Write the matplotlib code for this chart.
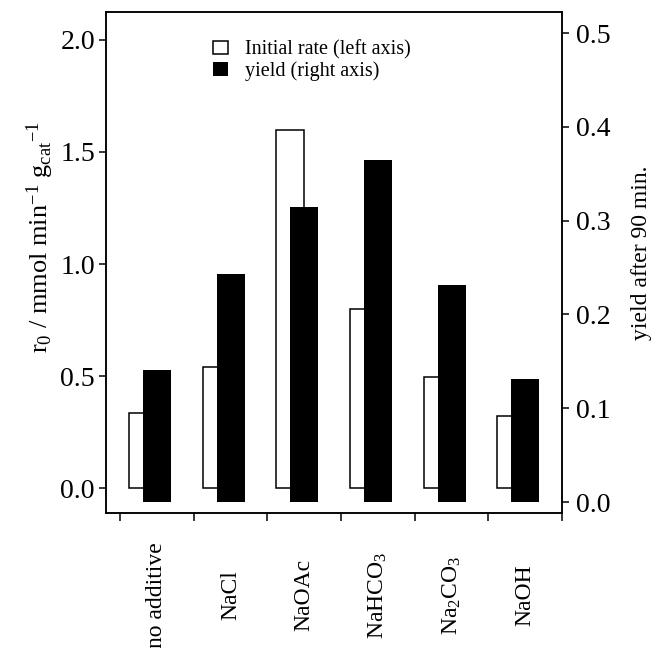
import numpy as np
import matplotlib
matplotlib.use("Agg")
import matplotlib.pyplot as plt
import matplotlib.transforms as mtransforms

plt.rcParams['font.family'] = ['Liberation Serif', 'DejaVu Serif']
plt.rcParams['mathtext.fontset'] = 'custom'
plt.rcParams['mathtext.rm'] = 'Liberation Serif'
plt.rcParams['mathtext.it'] = 'Liberation Serif:italic'

# Data
additives = ['no additive', 'NaCl', 'NaOAc', 'NaHCO$_3$', 'Na$_2$CO$_3$', 'NaOH']
rate = [0.335, 0.54, 1.60, 0.80, 0.495, 0.32]          # left axis
yield_90 = [0.141, 0.243, 0.314, 0.365, 0.231, 0.131]  # right axis
left_ticks = [0.0, 0.5, 1.0, 1.5, 2.0]
right_ticks = [0.0, 0.1, 0.2, 0.3, 0.4, 0.5]

x = np.arange(len(additives))
w = 0.38

fig = plt.figure(figsize=(6.67, 6.48), dpi=100)
ax = fig.add_axes([0.159, 0.2083, 0.6836, 0.7732])
ax2 = ax.twinx()

b1 = ax.bar(x - 0.19, rate, w, facecolor='white', edgecolor='black', linewidth=1.1,
            label='Initial rate (left axis)')
b2 = ax2.bar(x, yield_90, w, color='black', label='yield (right axis)')

ax.set_xlim(-0.69, 5.5)
ax.set_ylim(-0.1116, 2.125)
ax2.set_ylim(-0.0117, 0.5224)

ax.set_yticks(left_ticks)
ax.set_yticklabels(['%.1f' % v for v in left_ticks])
ax2.set_yticks(right_ticks)
ax2.set_yticklabels(['%.1f' % v for v in right_ticks])

# ticks at category boundaries, labels in between
ax.set_xticks(np.arange(-0.5, 6.0, 1.0))
ax.set_xticklabels([])
trans = mtransforms.blended_transform_factory(ax.transData, ax.transAxes)
for xi, name in zip(x, additives):
    ax.text(xi, -0.1637, name, rotation=90, ha='center', va='center',
            fontsize=17, transform=trans)

for a in (ax, ax2):
    for s in a.spines.values():
        s.set_linewidth(1.1)
ax.tick_params(axis='y', direction='out', length=5, width=1.1, labelsize=20, pad=3)
ax.tick_params(axis='x', direction='out', length=6, width=1.1)
ax2.tick_params(axis='y', direction='out', length=5, width=1.1, labelsize=20, pad=5)

fig.text(0.06, 0.634, r'r$_0$ / mmol min$^{-1}$ g$_{\rm cat}$$^{-1}$', rotation=90,
         ha='center', va='center', fontsize=19)
fig.text(0.962, 0.61, 'yield after 90 min.', rotation=90,
         ha='center', va='center', fontsize=17)

ax.legend(handles=[b1, b2], loc='upper left', bbox_to_anchor=(0.235, 0.944),
          frameon=False, fontsize=14.5, handlelength=0.75, handleheight=0.65,
          handletextpad=0.85, labelspacing=0.1, borderpad=0, borderaxespad=0)

fig.savefig('out.png', dpi=100)
